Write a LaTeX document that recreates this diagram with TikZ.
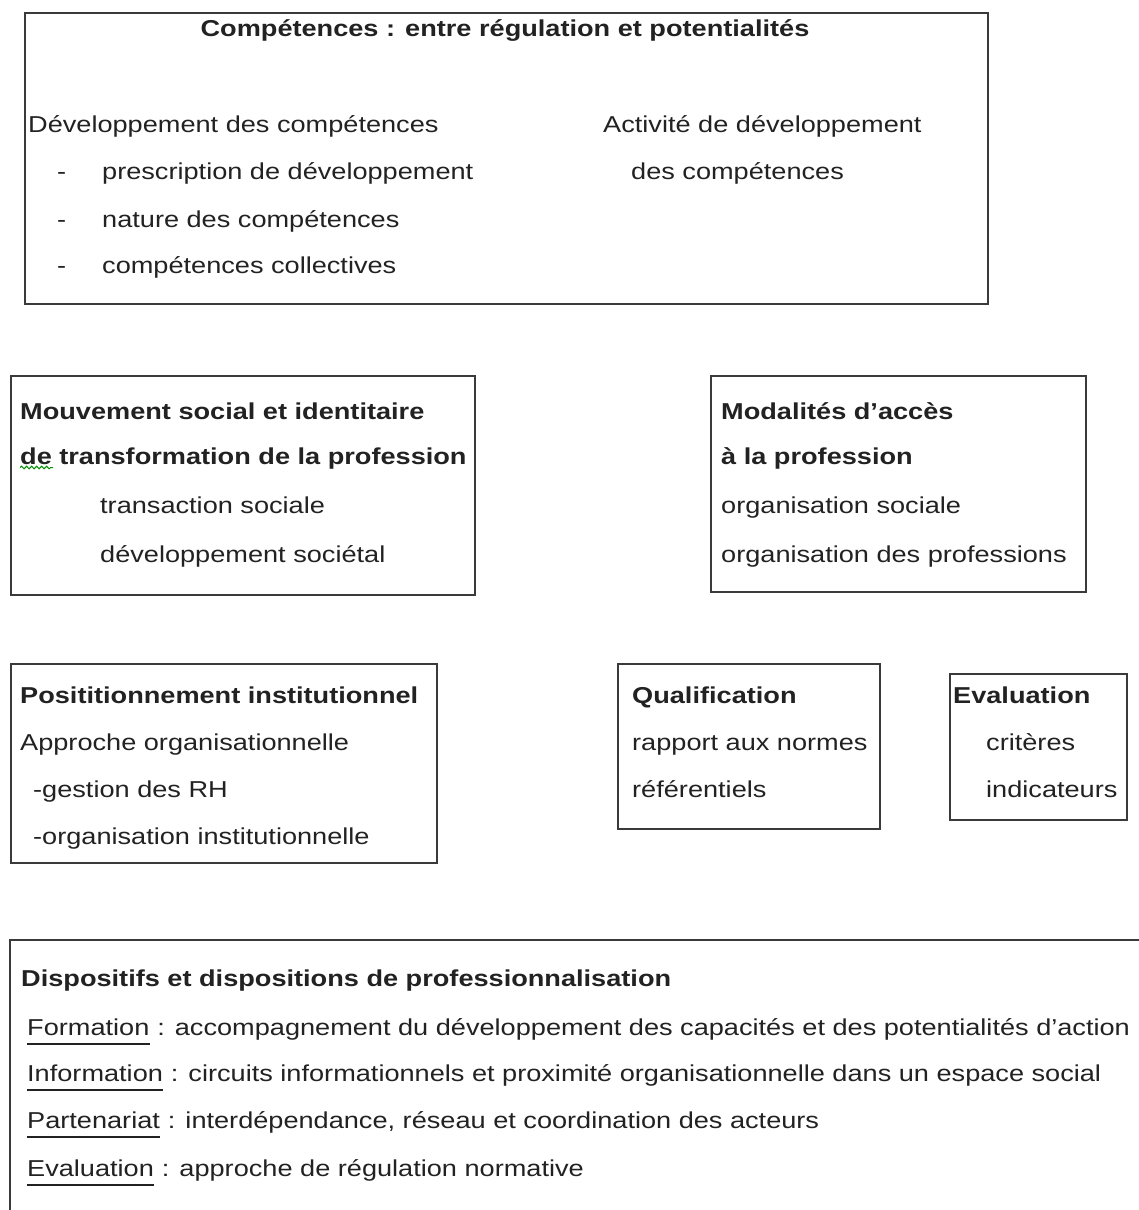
\documentclass[tikz,border=0pt]{standalone}
\usepackage{fontspec}
\setmainfont{Liberation Sans}[FakeStretch=1.18]
\usetikzlibrary{decorations.pathmorphing}
\definecolor{ink}{HTML}{222222}
\definecolor{frameclr}{HTML}{3A3A3A}
\tikzset{
  frame/.style={draw=frameclr, line width=2.2pt, inner sep=0pt, anchor=north west},
  txt/.style={anchor=base west, inner sep=0pt, text=ink, font=\fontsize{23}{27}\selectfont},
  btxt/.style={txt, font=\fontsize{23}{27}\selectfont\bfseries},
  uline/.style={draw=ink, line width=2.2pt},
}
\begin{document}
\begin{tikzpicture}[x=1pt,y=-1pt]
\useasboundingbox[fill=white] (0,0) rectangle (1138,1210);

% top box
\node[frame, minimum width=963pt, minimum height=291pt] (topbox) at (24,12) {};
\node[btxt, anchor=base] (t0) at (505,36) {Compétences : entre régulation et potentialités};
\node[txt] (t1) at (28,132) {Développement des compétences};
\node[txt] (d1) at (57,179) {-};
\node[txt] (t2) at (102,179) {prescription de développement};
\node[txt] (d2) at (57,227) {-};
\node[txt] (t3) at (102,227) {nature des compétences};
\node[txt] (d3) at (57,273) {-};
\node[txt] (t4) at (102,273) {compétences collectives};
\node[txt] (t5) at (603,132) {Activité de développement};
\node[txt] (t6) at (631,179) {des compétences};

% box mouvement
\node[frame, minimum width=464pt, minimum height=219pt] (mvbox) at (9.5,374.5) {};
\node[btxt] (m1) at (20,419) {Mouvement social et identitaire};
\node[btxt] (m2) at (20,464.5) {de transformation de la profession};
\node[txt] (m3) at (100,513) {transaction sociale};
\node[txt] (m4) at (100,562) {développement sociétal};
\draw[green!55!black, line width=1pt, decorate,
      decoration={snake, amplitude=1.3pt, segment length=5pt}]
      ([yshift=-3pt]m2.base west) -- ++(33,0);

% box modalites
\node[frame, minimum width=375pt, minimum height=216pt] (mobox) at (710,374.5) {};
\node[btxt] (o1) at (721,419) {Modalités d’accès};
\node[btxt] (o2) at (721,464.5) {à la profession};
\node[txt] (o3) at (721,513) {organisation sociale};
\node[txt] (o4) at (721,562) {organisation des professions};

% box positionnement
\node[frame, minimum width=426pt, minimum height=199pt] (pobox) at (9.5,663) {};
\node[btxt] (p1) at (20,703) {Posititionnement institutionnel};
\node[txt] (p2) at (20,750) {Approche organisationnelle};
\node[txt] (p3) at (33,797) {-gestion des RH};
\node[txt] (p4) at (33,844) {-organisation institutionnelle};

% box qualification
\node[frame, minimum width=262pt, minimum height=165pt] (qubox) at (617,663) {};
\node[btxt] (q1) at (632,703) {Qualification};
\node[txt] (q2) at (632,750) {rapport aux normes};
\node[txt] (q3) at (632,797) {référentiels};

% box evaluation
\node[frame, minimum width=177pt, minimum height=146pt] (evbox) at (949,673) {};
\node[btxt] (e1) at (953,703) {Evaluation};
\node[txt] (e2) at (986,750) {critères};
\node[txt] (e3) at (986,797) {indicateurs};

% bottom box (open to the right and bottom)
\coordinate (bbr) at (1150,940);
\coordinate (bbl) at (10,940);
\coordinate (bbb) at (10,1220);
\draw[draw=frameclr, line width=2.2pt] (bbr) -- (bbl) -- (bbb);
\node[btxt] (b0) at (21,986) {Dispositifs et dispositions de professionnalisation};
\node[txt] (b1k) at (27,1035) {Formation};
\node[txt, anchor=base west] (b1) at (b1k.base east) {\ : accompagnement du développement des capacités et des potentialités d'action};
\node[txt] (b2k) at (27,1081) {Information};
\node[txt, anchor=base west] (b2) at (b2k.base east) {\ : circuits informationnels et proximité organisationnelle dans un espace social};
\node[txt] (b3k) at (27,1128) {Partenariat};
\node[txt, anchor=base west] (b3) at (b3k.base east) {\ : interdépendance, réseau et coordination des acteurs};
\node[txt] (b4k) at (27,1176) {Evaluation};
\node[txt, anchor=base west] (b4) at (b4k.base east) {\ : approche de régulation normative};
\draw[uline] ([yshift=-9pt]b1k.base west) -- ([yshift=-9pt]b1k.base east);
\draw[uline] ([yshift=-9pt]b2k.base west) -- ([yshift=-9pt]b2k.base east);
\draw[uline] ([yshift=-9pt]b3k.base west) -- ([yshift=-9pt]b3k.base east);
\draw[uline] ([yshift=-9pt]b4k.base west) -- ([yshift=-9pt]b4k.base east);
\end{tikzpicture}
\end{document}
